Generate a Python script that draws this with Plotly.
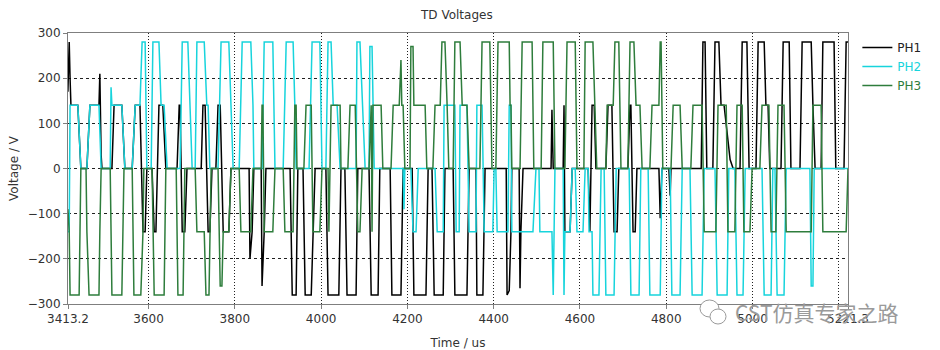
import plotly.graph_objects as go

# ---------------- data (time in us, voltage in V) ----------------
PH1_T = [3413, 3416, 3418, 3420, 3436, 3443, 3457, 3464, 3485, 3487, 3490, 3492,
         3515, 3520, 3538, 3545, 3562, 3569, 3580, 3587, 3592, 3596, 3608, 3613,
         3617, 3624, 3633, 3640, 3666, 3671, 3673, 3678, 3684, 3689, 3722, 3726,
         3731, 3738, 3742, 3747, 3756, 3761, 3766, 3773, 3786, 3791, 3833, 3835,
         3840, 3844, 3861, 3863, 3868, 3872, 3928, 3933, 3942, 3946, 3958, 3963,
         3977, 3981, 3986, 4011, 4016, 4041, 4046, 4055, 4060, 4081, 4085, 4111,
         4116, 4132, 4136, 4160, 4164, 4185, 4190, 4211, 4215, 4243, 4248, 4257,
         4262, 4283, 4287, 4306, 4310, 4338, 4343, 4359, 4361, 4375, 4380, 4429,
         4431, 4436, 4440, 4442, 4459, 4461, 4463, 4468, 4533, 4535, 4538, 4561,
         4563, 4565, 4577, 4582, 4619, 4623, 4628, 4633, 4637, 4660, 4665, 4674,
         4679, 4686, 4690, 4711, 4716, 4718, 4723, 4728, 4732, 4783, 4786, 4790,
         4806, 4809, 4811, 4881, 4885, 4890, 4894, 4908, 4913, 4922, 4927, 4934,
         4948, 4955, 4971, 4976, 4987, 4992, 5008, 5013, 5027, 5031, 5036, 5040,
         5066, 5071, 5085, 5089, 5110, 5115, 5136, 5140, 5145, 5159, 5163, 5189,
         5193, 5212, 5217, 5221.3]
PH1_V = [170, 280, 200, 140, 140, 0, 0, 140, 140, 210, 30, 0,
         0, 140, 140, 0, 0, 140, 140, -140, -140, 0, 0, -140,
         -140, 140, 140, 0, 0, 140, 140, -140, -140, 0, 0, 140,
         140, -140, -140, 0, 0, 140, 140, -140, -140, 0, 0, -200,
         -140, 0, 0, -260, -140, 0, 0, -280, -280, 0, 0, -280,
         -280, -140, 0, 0, -280, -280, 0, 0, -280, -280, 0, 0,
         -280, -280, 0, 0, -280, -280, 0, 0, -280, -280, 0, 0,
         -280, -280, 0, 0, -280, -280, 0, 0, -280, -280, 0, 0,
         -280, -270, -140, 0, 0, -265, -140, 0, 0, 130, 0, 0,
         140, -140, -140, 0, 0, -140, 140, 140, 0, 0, 140, 140,
         -140, -140, 0, 0, 140, 140, -140, -140, 0, 0, -110, 0,
         0, -60, 0, 0, 280, 280, 0, 0, 280, 280, 140, 140,
         20, 0, 0, 280, 280, 0, 0, 280, 280, 140, 140, 0,
         0, 280, 280, 0, 0, 280, 280, 140, 0, 0, 280, 280,
         0, 0, 280, 280]

PH2_T = [3413, 3416, 3418, 3436, 3443, 3457, 3464, 3485, 3490, 3511, 3513, 3515,
         3538, 3545, 3562, 3569, 3580, 3585, 3592, 3596, 3606, 3610, 3624, 3629,
         3636, 3643, 3673, 3678, 3691, 3696, 3701, 3708, 3712, 3729, 3735, 3738,
         3742, 3761, 3768, 3786, 3791, 3796, 3810, 3817, 3837, 3842, 3844, 3863,
         3868, 3888, 3893, 3912, 3919, 3935, 3939, 3942, 3972, 3979, 3997, 4002,
         4011, 4016, 4023, 4028, 4037, 4044, 4081, 4083, 4090, 4102, 4111, 4113,
         4118, 4123, 4190, 4192, 4194, 4208, 4213, 4220, 4225, 4264, 4269, 4283,
         4285, 4310, 4313, 4320, 4322, 4338, 4343, 4359, 4361, 4373, 4378, 4398,
         4401, 4405, 4408, 4433, 4436, 4440, 4442, 4491, 4498, 4505, 4507, 4535,
         4538, 4540, 4542, 4561, 4563, 4565, 4577, 4582, 4589, 4593, 4607, 4612,
         4619, 4621, 4628, 4630, 4644, 4649, 4656, 4660, 4679, 4684, 4714, 4718,
         4737, 4741, 4758, 4762, 4786, 4790, 4809, 4813, 4832, 4837, 4855, 4860,
         4883, 4888, 4913, 4918, 4941, 4945, 4959, 4964, 4978, 4983, 5022, 5027,
         5043, 5047, 5052, 5057, 5073, 5078, 5133, 5136, 5140, 5143, 5221.3]
PH2_V = [-140, -140, 140, 140, 0, 0, 140, 140, 0, 0, 180, 140,
         140, 0, 0, 140, 140, 280, 280, 0, 0, 280, 280, 140,
         140, 0, 0, 280, 280, 140, 0, 0, 280, 280, 140, 140,
         0, 0, 280, 280, 140, 0, 0, 280, 280, 140, 0, 0,
         280, 280, 0, 0, 280, 280, 140, 0, 0, 280, 280, 0,
         0, 280, 280, 140, 140, 0, 0, 280, 280, 0, 0, 270,
         270, 0, 0, -90, 0, 0, -140, -140, 0, 0, -140, -140,
         140, 140, -140, -140, 140, 140, -140, -140, 140, 140, -140, -140,
         0, 0, -140, -140, 140, 140, -140, -140, 0, 0, -140, -140,
         -280, -140, 0, 0, -280, -140, -140, 0, 0, -140, -140, 0,
         0, -140, -140, -280, -280, 0, 0, -280, -280, 0, 0, -280,
         -280, 0, 0, -280, -280, 0, 0, -280, -280, 0, 0, -280,
         -280, 0, 0, -280, -280, 0, 0, -280, -280, 0, 0, -280,
         -280, 0, 0, -280, -280, 0, 0, -260, -260, 0, 0]

PH3_T = [3413, 3416, 3418, 3439, 3441, 3443, 3455, 3457, 3462, 3485, 3487, 3490,
         3511, 3515, 3538, 3543, 3562, 3566, 3582, 3587, 3589, 3608, 3613, 3636,
         3640, 3664, 3668, 3680, 3684, 3708, 3712, 3729, 3733, 3740, 3745, 3761,
         3766, 3770, 3773, 3786, 3791, 3810, 3814, 3837, 3842, 3861, 3863, 3865,
         3868, 3888, 3893, 3912, 3916, 3935, 3939, 3942, 3944, 3960, 3965, 3977,
         3981, 3997, 4002, 4016, 4018, 4023, 4044, 4046, 4062, 4067, 4079, 4085,
         4090, 4095, 4111, 4116, 4118, 4120, 4139, 4143, 4162, 4167, 4181, 4185,
         4187, 4190, 4194, 4206, 4208, 4213, 4215, 4241, 4245, 4259, 4264, 4276,
         4280, 4287, 4292, 4296, 4306, 4310, 4322, 4327, 4338, 4343, 4368, 4373,
         4391, 4396, 4405, 4410, 4436, 4438, 4440, 4442, 4461, 4466, 4489, 4493,
         4510, 4514, 4538, 4542, 4565, 4570, 4589, 4593, 4609, 4612, 4630, 4635,
         4639, 4660, 4663, 4677, 4681, 4690, 4695, 4711, 4716, 4725, 4730, 4739,
         4744, 4762, 4767, 4783, 4786, 4788, 4792, 4811, 4816, 4832, 4837, 4857,
         4862, 4883, 4888, 4915, 4920, 4939, 4943, 4959, 4964, 4976, 4980, 4994,
         4999, 5017, 5022, 5038, 5043, 5054, 5059, 5073, 5078, 5136, 5140, 5159,
         5163, 5217, 5221.3]
PH3_V = [-90, -140, -280, -280, -140, 0, 0, -140, -280, -280, -140, 0,
         0, -280, -280, 0, 0, -280, -280, -140, 0, 0, -280, -280,
         0, 0, -280, -280, 0, 0, -140, -140, -280, -280, 0, 0,
         -260, -260, -140, -140, 0, 0, -140, -140, 0, 0, 140, 140,
         -140, -140, 0, 0, -140, -140, 140, 140, 0, 0, 140, 140,
         -140, -140, 0, 0, -140, 140, 140, 0, 0, 140, 140, -140,
         -140, 0, 0, 140, -140, 140, 140, 0, 0, 140, 140, 240,
         140, 140, 0, 0, 270, 270, 140, 140, 0, 0, 140, 140,
         280, 280, 140, 0, 0, 280, 280, 140, 140, 0, 0, 280,
         280, 0, 0, 280, 280, 140, 140, 0, 0, 280, 280, 0,
         0, 280, 280, 0, 0, 280, 280, 0, 0, 280, 280, 140,
         0, 0, 140, 140, 280, 280, 0, 0, 280, 280, 140, 140,
         0, 0, 140, 140, 280, 280, 0, 0, 140, 140, 0, 0,
         140, 140, -140, -140, 140, 140, -140, -140, 140, 140, -140, -140,
         0, 0, 140, 140, -140, -140, 140, 140, -140, -140, 140, 140,
         -140, -140, 0]

SERIES = ["PH1", "PH2", "PH3"]
COLORS = ["#000000", "#17d4dc", "#2e7d3c"]
LEGEND_TEXT_COLORS = ["#222222", "#17d4dc", "#2e7d3c"]

X_TICKS = [3413.2, 3600, 3800, 4000, 4200, 4400, 4600, 4800, 5000, 5200, 5221.3]
X_TICK_TEXT = ["3413.2", "3600", "3800", "4000", "4200", "4400", "4600", "4800", "5000", "", "5221.3"]
Y_TICKS = [-300, -200, -100, 0, 100, 200, 300]

FONT = "DejaVu Sans"

fig = go.Figure()
for name, T, V, col, tcol in zip(SERIES, [PH1_T, PH2_T, PH3_T], [PH1_V, PH2_V, PH3_V],
                                 COLORS, LEGEND_TEXT_COLORS):
    fig.add_trace(go.Scatter(
        x=T, y=V, mode="lines", line=dict(color=col, width=1.5),
        name=f'<span style="color:{tcol}">{name}</span>',
    ))

fig.update_layout(
    width=940, height=350,
    margin=dict(l=68, r=92, t=33, b=46),
    paper_bgcolor="white", plot_bgcolor="white",
    font=dict(family=FONT, size=12, color="#333333"),
    title=dict(text="TD Voltages", x=0.486, xref="container", xanchor="center",
               y=0.957, yanchor="middle", font=dict(family=FONT, size=12, color="#333333")),
    showlegend=True,
    legend=dict(x=1.012, y=1.0, xanchor="left", yanchor="top",
                font=dict(family=FONT, size=12), itemwidth=30,
                tracegroupgap=0, bgcolor="rgba(0,0,0,0)"),
    xaxis=dict(
        range=[3413.2, 5221.3], tickmode="array", tickvals=X_TICKS, ticktext=X_TICK_TEXT,
        showgrid=True, gridcolor="#202020", griddash="1px,2px", gridwidth=1,
        zeroline=False, showline=True, linecolor="#7f7f7f", linewidth=1, mirror=True,
        ticks="outside", ticklen=4, tickcolor="#7f7f7f", automargin=False,
        title=dict(text="Time / us", standoff=13, font=dict(family=FONT, size=12, color="#333333")),
    ),
    yaxis=dict(
        range=[-300, 300], tickmode="array", tickvals=Y_TICKS,
        showgrid=True, gridcolor="#202020", griddash="3px,3px", gridwidth=1,
        zeroline=False, showline=True, linecolor="#7f7f7f", linewidth=1, mirror=True,
        ticks="outside", ticklen=4, tickcolor="#7f7f7f", automargin=False,
        title=dict(text="Voltage / V", standoff=6, font=dict(family=FONT, size=12, color="#333333")),
    ),
)

# watermark
fig.add_shape(type="circle", xref="paper", yref="paper",
              x0=(700 - 68) / 780, x1=(719 - 68) / 780, y0=(304 - 317) / 271, y1=(304 - 300) / 271,
              line=dict(color="#9a9a9a", width=1), fillcolor="white", layer="above")
fig.add_shape(type="circle", xref="paper", yref="paper",
              x0=(710 - 68) / 780, x1=(726 - 68) / 780, y0=(304 - 324) / 271, y1=(304 - 309) / 271,
              line=dict(color="#9a9a9a", width=1), fillcolor="white", layer="above")
fig.add_annotation(text="CST仿真专家之路", xref="paper", yref="paper",
                   x=(816 - 68) / 780, y=(304 - 312) / 271, xanchor="center", yanchor="middle",
                   showarrow=False,
                   font=dict(family="Noto Sans CJK SC", size=21, color="#9a9a9a"))

fig.write_html("out.html")
